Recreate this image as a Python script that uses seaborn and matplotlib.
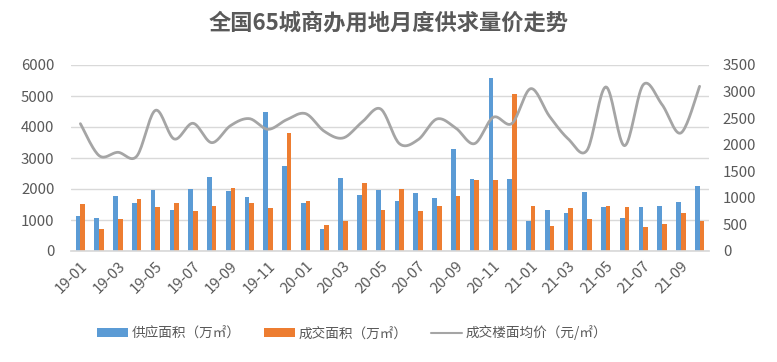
import numpy as np
import pandas as pd
import matplotlib
matplotlib.use("Agg")
import matplotlib.pyplot as plt
import seaborn as sns
from matplotlib.patches import Patch
from matplotlib.lines import Line2D

months = ["19-01","19-02","19-03","19-04","19-05","19-06","19-07","19-08","19-09","19-10","19-11","19-12",
          "20-01","20-02","20-03","20-04","20-05","20-06","20-07","20-08","20-09","20-10","20-11","20-12",
          "21-01","21-02","21-03","21-04","21-05","21-06","21-07","21-08","21-09","21-10"]
supply = [1140, 1075, 1785, 1559, 1978, 1333, 2011, 2398, 1946, 1753, 4495, 2753,
          1559, 720, 2366, 1817, 1978, 1624, 1882, 1720, 3301, 2333, 5591, 2333,
          978, 1333, 1237, 1914, 1430, 1075, 1430, 1462, 1591, 2108]
deal = [1527, 720, 1043, 1688, 1430, 1559, 1301, 1462, 2043, 1559, 1398, 3817,
        1624, 849, 978, 2204, 1333, 2011, 1301, 1462, 1785, 2301, 2301, 5075,
        1462, 817, 1398, 1043, 1462, 1430, 785, 882, 1237, 978]
price = [2396, 1794, 1857, 1782, 2647, 2108, 2403, 2039, 2359, 2491, 2290, 2472,
         2585, 2252, 2127, 2422, 2673, 2020, 2095, 2484, 2315, 2020, 2516, 2400,
         3055, 2534, 2108, 1895, 3087, 1982, 3131, 2754, 2221, 3099]

s_supply = "供应面积（万㎡）"
s_deal = "成交面积（万㎡）"
s_price = "成交楼面均价（元/㎡）"

sns.set_theme(style="white")
plt.rcParams['font.family'] = ['Noto Sans CJK SC', 'DejaVu Sans']

c_blue, c_orange, c_gray = "#5B9BD5", "#ED7D31", "#A5A5A5"
txt = "#595959"

df = pd.DataFrame({
    "month": months * 2,
    "value": supply + deal,
    "series": [s_supply] * len(months) + [s_deal] * len(months),
})

fig = plt.figure(figsize=(7.77, 3.62), dpi=100)
ax = fig.add_axes([71/777, 1-251/362, (709-71)/777, (251-65)/362])
sns.barplot(data=df, x="month", y="value", hue="series", order=months,
            hue_order=[s_supply, s_deal], palette=[c_blue, c_orange],
            width=0.5, gap=0, dodge=True, ax=ax, legend=False, saturation=1,
            linewidth=0)
ax.set_xlim(-0.5, len(months) - 0.5)
ax.set_ylim(0, 6000)
ax.set_yticks(range(0, 6001, 1000))
ax.yaxis.grid(True, color="#D9D9D9", linewidth=1)
ax.set_axisbelow(True)
ax.set_xlabel("")
ax.set_ylabel("")
for sp in ["top", "left", "right"]:
    ax.spines[sp].set_visible(False)
ax.spines["bottom"].set_color("#D9D9D9")
ax.tick_params(axis="y", length=0, pad=12, labelsize=10.8, labelcolor=txt)
ax.set_xticks(range(0, len(months), 2))
ax.set_xticklabels(months[::2], rotation=45, ha="right", rotation_mode="anchor",
                   fontsize=10.8, color=txt)
ax.tick_params(axis="x", length=0, pad=6)

# smoothed price line (Catmull-Rom through data points)
ax2 = ax.twinx()
xs = np.arange(len(price), dtype=float)
ys = np.array(price, dtype=float)
px = np.concatenate([[xs[0]], xs, [xs[-1]]])
py = np.concatenate([[ys[0]], ys, [ys[-1]]])
sx, sy = [], []
for i in range(1, len(px) - 2):
    t = np.linspace(0, 1, 20, endpoint=False)
    for arr, out in ((px, sx), (py, sy)):
        p0, p1, p2, p3 = arr[i-1], arr[i], arr[i+1], arr[i+2]
        out.extend(0.5 * ((2*p1) + (-p0 + p2)*t + (2*p0 - 5*p1 + 4*p2 - p3)*t**2
                          + (-p0 + 3*p1 - 3*p2 + p3)*t**3))
sx.append(xs[-1]); sy.append(ys[-1])
ax2.plot(sx, sy, color=c_gray, linewidth=2)
ax2.set_ylim(0, 3500)
ax2.set_yticks(range(0, 3501, 500))
ax2.tick_params(axis="y", length=0, pad=10, labelsize=10.8, labelcolor=txt)
for sp in ["top", "left", "right", "bottom"]:
    ax2.spines[sp].set_visible(False)
ax2.set_xlim(-0.5, len(months) - 0.5)

fig.text(0.5, 1-23/362, "全国65城商办用地月度供求量价走势", ha="center", va="center",
         fontsize=16, fontweight="bold", color=txt)

handles = [Patch(facecolor=c_blue, edgecolor="none"),
           Patch(facecolor=c_orange, edgecolor="none"),
           Line2D([0], [0], color=c_gray, linewidth=1.5)]
fig.legend(handles, [s_supply, s_deal, s_price], loc="center",
           bbox_to_anchor=(352/777, 1-333/362), ncol=3, frameon=False,
           fontsize=9.8, labelcolor=txt, handlelength=2.3, handleheight=0.6,
           columnspacing=1.7, handletextpad=0.25)

fig.savefig("out.png", dpi=100)
